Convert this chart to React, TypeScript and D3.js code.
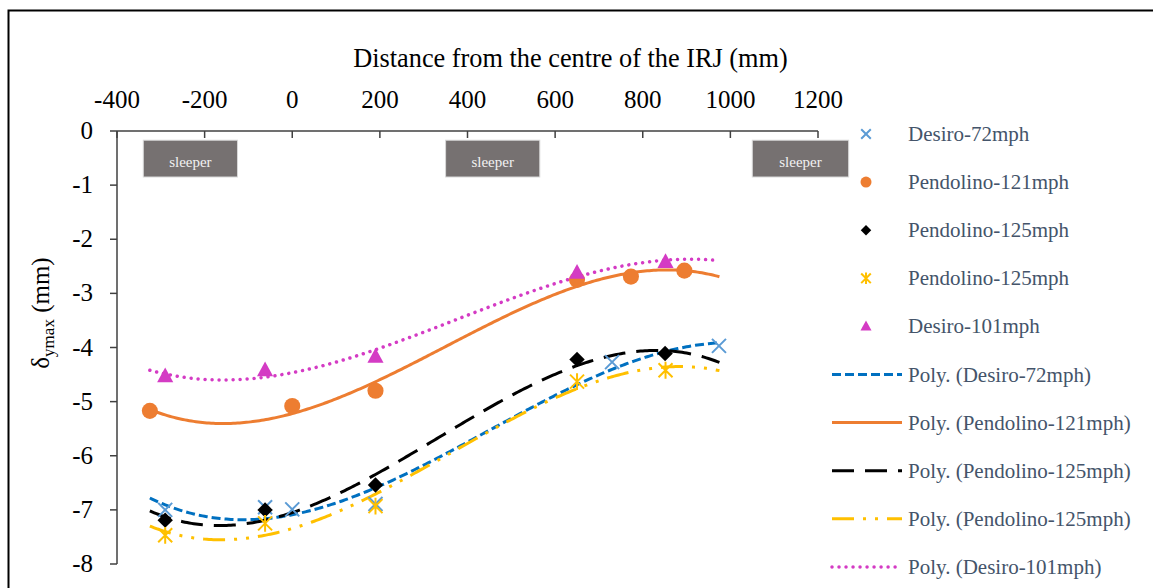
import React, { useEffect, useRef } from 'react';
import * as d3 from 'd3';

// measured points (x in mm from IRJ centre, y = delta ymax in mm)
const desiro72X = [-290, -62, 0, 190, 730, 974];
const desiro72Y = [-7.0, -6.95, -6.99, -6.89, -4.27, -3.97];
const pendolino121X = [-325, 0, 190, 650, 773, 895];
const pendolino121Y = [-5.17, -5.08, -4.8, -2.75, -2.69, -2.58];
const pendolino125aX = [-290, -62, 190, 650, 851];
const pendolino125aY = [-7.19, -7.0, -6.54, -4.22, -4.11];
const pendolino125bX = [-290, -62, 190, 650, 852];
const pendolino125bY = [-7.47, -7.25, -6.93, -4.63, -4.42];
const desiro101X = [-290, -62, 190, 650, 852];
const desiro101Y = [-4.53, -4.42, -4.17, -2.62, -2.42];

const seriesNames = ['Desiro-72mph', 'Pendolino-121mph', 'Pendolino-125mph', 'Pendolino-125mph', 'Desiro-101mph'];
const trendRange = [-325, 975];
const xTicks = [-400, -200, 0, 200, 400, 600, 800, 1000, 1200];
const yTicks = [0, -1, -2, -3, -4, -5, -6, -7, -8];
// sleeper blocks drawn on the chart (mm)
const sleeperStart = [-340, 350, 1050];
const sleeperEnd = [-125, 565, 1270];

const serif = '"Liberation Serif", "Times New Roman", serif';

// least squares polynomial (same as an Excel "Poly." trendline)
function polyFit(xs, ys, order) {
  const n = order + 1;
  const s = 1000;
  const A = [];
  const b = [];
  for (let i = 0; i < n; i++) {
    A.push(new Array(n).fill(0));
    b.push(0);
  }
  xs.forEach((x0, k) => {
    const x = x0 / s;
    for (let i = 0; i < n; i++) {
      for (let j = 0; j < n; j++) A[i][j] += Math.pow(x, i + j);
      b[i] += Math.pow(x, i) * ys[k];
    }
  });
  // gaussian elimination
  for (let c = 0; c < n; c++) {
    let p = c;
    for (let r = c + 1; r < n; r++) if (Math.abs(A[r][c]) > Math.abs(A[p][c])) p = r;
    [A[c], A[p]] = [A[p], A[c]];
    [b[c], b[p]] = [b[p], b[c]];
    for (let r = c + 1; r < n; r++) {
      const f = A[r][c] / A[c][c];
      for (let k = c; k < n; k++) A[r][k] -= f * A[c][k];
      b[r] -= f * b[c];
    }
  }
  const coef = new Array(n).fill(0);
  for (let i = n - 1; i >= 0; i--) {
    let sum = b[i];
    for (let k = i + 1; k < n; k++) sum -= A[i][k] * coef[k];
    coef[i] = sum / A[i][i];
  }
  return (x) => coef.reduce((acc, c, i) => acc + c * Math.pow(x / s, i), 0);
}

const App = () => {
  const svgRef = useRef(null);
  const width = 1153;
  const height = 588;

  useEffect(() => {
    const svg = d3.select(svgRef.current);
    svg.selectAll('*').remove();

    const x = d3.scaleLinear().domain([-400, 1200]).range([117, 818]);
    const y = d3.scaleLinear().domain([0, -8]).range([131, 564]);

    const series = [
      { xs: desiro72X, ys: desiro72Y, marker: 'x', color: '#5B9BD5', line: '#0070C0', dash: '9 4', width: 3 },
      { xs: pendolino121X, ys: pendolino121Y, marker: 'circle', color: '#ED7D31', line: '#ED7D31', dash: null, width: 3 },
      { xs: pendolino125aX, ys: pendolino125aY, marker: 'diamond', color: '#000000', line: '#000000', dash: '22 11', width: 3 },
      { xs: pendolino125bX, ys: pendolino125bY, marker: 'star', color: '#FFC000', line: '#FFC000', dash: '22 9 3 9 3 9', width: 3 },
      { xs: desiro101X, ys: desiro101Y, marker: 'triangle', color: '#D43BC4', line: '#D43BC4', dash: '0.01 7', width: 3.5 },
    ];

    // outer chart border
    svg.append('rect')
      .attr('x', 8.5).attr('y', 10.5)
      .attr('width', width + 20).attr('height', height + 20)
      .attr('fill', 'white').attr('stroke', 'black').attr('stroke-width', 2);

    // title on the top axis
    svg.append('text')
      .attr('x', (x(-400) + x(1200)) / 2 + 103).attr('y', 67)
      .attr('text-anchor', 'middle')
      .style('font-family', serif).style('font-size', '26.3px')
      .text('Distance from the centre of the IRJ (mm)');

    // sleepers
    sleeperStart.forEach((s, i) => {
      svg.append('rect')
        .attr('x', x(s)).attr('y', y(-0.17))
        .attr('width', x(sleeperEnd[i]) - x(s)).attr('height', y(-0.85) - y(-0.17))
        .attr('fill', '#767171').attr('stroke', '#d9d9d9').attr('stroke-width', 1);
      svg.append('text')
        .attr('x', (x(s) + x(sleeperEnd[i])) / 2).attr('y', y(-0.51) + 8)
        .attr('text-anchor', 'middle').attr('fill', '#f2f2f2')
        .style('font-family', serif).style('font-size', '15px')
        .text('sleeper');
    });

    // axes
    const axisColor = '#404040';
    svg.append('line')
      .attr('x1', x(-400)).attr('x2', x(1200)).attr('y1', y(0)).attr('y2', y(0))
      .attr('stroke', axisColor).attr('stroke-width', 1.5);
    svg.append('line')
      .attr('x1', x(-400)).attr('x2', x(-400)).attr('y1', y(0)).attr('y2', y(-8))
      .attr('stroke', axisColor).attr('stroke-width', 1.5);

    xTicks.forEach((t) => {
      svg.append('line')
        .attr('x1', x(t)).attr('x2', x(t)).attr('y1', y(0)).attr('y2', y(0) + 7)
        .attr('stroke', axisColor).attr('stroke-width', 1.5);
      svg.append('text')
        .attr('x', x(t)).attr('y', 108)
        .attr('text-anchor', 'middle')
        .style('font-family', serif).style('font-size', '25px')
        .text(t);
    });
    yTicks.forEach((t) => {
      svg.append('line')
        .attr('x1', x(-400) - 7).attr('x2', x(-400)).attr('y1', y(t)).attr('y2', y(t))
        .attr('stroke', axisColor).attr('stroke-width', 1.5);
      svg.append('text')
        .attr('x', 93).attr('y', y(t) + 8)
        .attr('text-anchor', 'end')
        .style('font-family', serif).style('font-size', '25px')
        .text(t);
    });

    // y axis label: delta with ymax subscript
    const yl = svg.append('text')
      .attr('transform', 'translate(49, 313) rotate(-90)')
      .attr('text-anchor', 'middle')
      .style('font-family', serif).style('font-size', '25px');
    yl.append('tspan').text('δ');
    yl.append('tspan').attr('dy', 5).style('font-size', '17px').text('ymax');
    yl.append('tspan').attr('dy', -5).text(' (mm)');

    // trendlines
    const line = d3.line().x((d) => x(d[0])).y((d) => y(d[1]));
    series.forEach((s) => {
      const f = polyFit(s.xs, s.ys, 3);
      const pts = d3.range(trendRange[0], trendRange[1] + 1, 5).map((v) => [v, f(v)]);
      svg.append('path')
        .datum(pts)
        .attr('d', line)
        .attr('fill', 'none')
        .attr('stroke', s.line)
        .attr('stroke-width', s.width)
        .attr('stroke-linecap', s.marker === 'triangle' ? 'round' : 'butt')
        .attr('stroke-dasharray', s.dash);
    });

    function drawMarker(g, type, color, cx, cy, r) {
      if (type === 'x') {
        g.append('path')
          .attr('d', `M${cx - r},${cy - r}L${cx + r},${cy + r}M${cx - r},${cy + r}L${cx + r},${cy - r}`)
          .attr('stroke', color).attr('stroke-width', 2);
      } else if (type === 'circle') {
        g.append('circle').attr('cx', cx).attr('cy', cy).attr('r', r * 1.15).attr('fill', color);
      } else if (type === 'diamond') {
        g.append('path')
          .attr('d', `M${cx},${cy - r * 1.1}L${cx + r * 1.1},${cy}L${cx},${cy + r * 1.1}L${cx - r * 1.1},${cy}Z`)
          .attr('fill', color);
      } else if (type === 'star') {
        g.append('path')
          .attr('d', `M${cx - r},${cy - r}L${cx + r},${cy + r}M${cx - r},${cy + r}L${cx + r},${cy - r}M${cx},${cy - r * 1.2}L${cx},${cy + r * 1.2}`)
          .attr('stroke', color).attr('stroke-width', 2);
      } else if (type === 'triangle') {
        g.append('path')
          .attr('d', `M${cx},${cy - r * 1.25}L${cx + r * 1.15},${cy + r * 0.85}L${cx - r * 1.15},${cy + r * 0.85}Z`)
          .attr('fill', color);
      }
    }

    // markers
    series.forEach((s) => {
      const g = svg.append('g');
      s.xs.forEach((v, i) => drawMarker(g, s.marker, s.color, x(v), y(s.ys[i]), 7));
    });

    // legend
    const legend = svg.append('g');
    const rowY = (i) => 134 + i * 48.1;
    series.forEach((s, i) => {
      drawMarker(legend, s.marker, s.color, 866, rowY(i), 4.8);
      legend.append('text')
        .attr('x', 908).attr('y', rowY(i) + 7)
        .attr('fill', '#44546A')
        .style('font-family', serif).style('font-size', '21px')
        .text(seriesNames[i]);
    });
    series.forEach((s, i) => {
      const yy = rowY(i + 5);
      legend.append('line')
        .attr('x1', 832).attr('x2', 902).attr('y1', yy).attr('y2', yy)
        .attr('stroke', s.line).attr('stroke-width', s.width)
        .attr('stroke-linecap', s.marker === 'triangle' ? 'round' : 'butt')
        .attr('stroke-dasharray', s.dash);
      legend.append('text')
        .attr('x', 908).attr('y', yy + 7)
        .attr('fill', '#44546A')
        .style('font-family', serif).style('font-size', '21px')
        .text('Poly. (' + seriesNames[i] + ')');
    });
  }, []);

  return (
    <svg ref={svgRef} width={width} height={height}
         style={{ position: 'absolute', left: 0, top: 0, display: 'block' }} />
  );
};

export default App;
